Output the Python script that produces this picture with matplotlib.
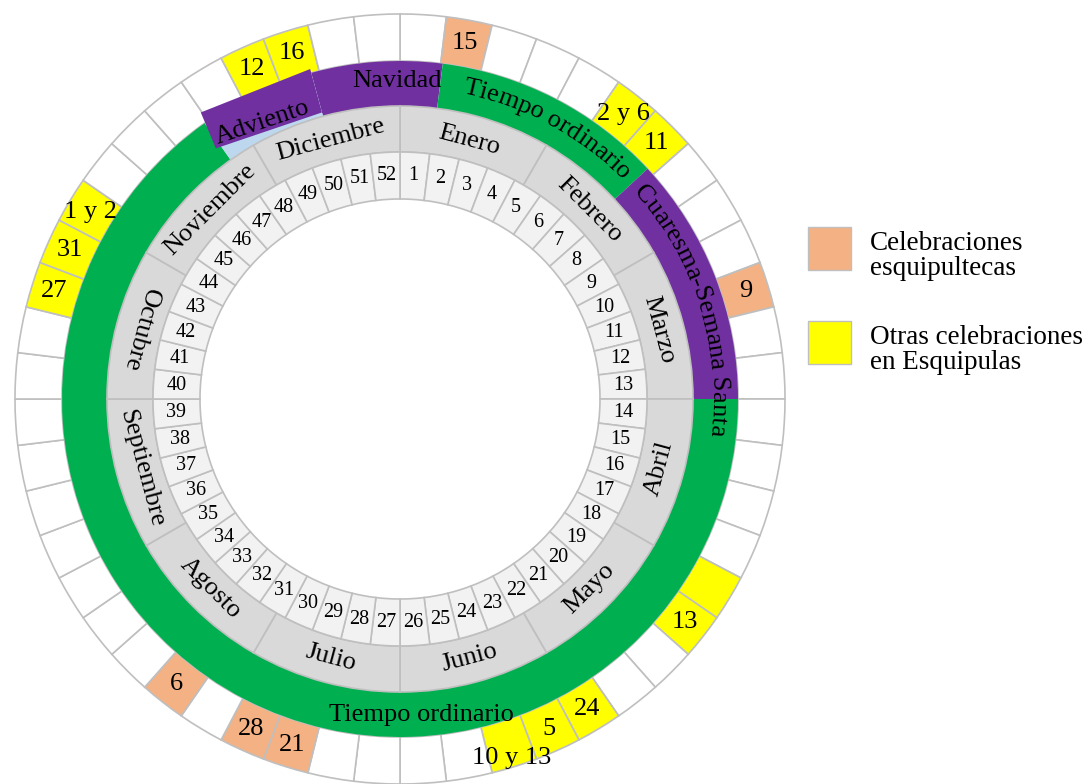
import numpy as np
import matplotlib.pyplot as plt
from matplotlib.patches import Wedge, Polygon, Rectangle
from matplotlib.textpath import TextToPath
from matplotlib.font_manager import FontProperties

plt.rcParams['font.family'] = 'Liberation Serif'

# --- data ---
weeks = list(range(1, 53))
months = ['Enero', 'Febrero', 'Marzo', 'Abril', 'Mayo', 'Junio',
          'Julio', 'Agosto', 'Septiembre', 'Octubre', 'Noviembre', 'Diciembre']

# liturgical seasons, start / end given in weeks since 1 January
season_names = ['Navidad', 'Tiempo ordinario', 'Cuaresma-Semana Santa',
                'Tiempo ordinario', 'Adviento']
season_start = [49.8, 1.05, 6.8, 13.0, 46.9]
season_end = [53.05, 6.8, 13.0, 46.9, 49.8]
season_colors = ['#7030a0', '#00b050', '#7030a0', '#00b050', '#bdd7ee']

# celebrations: week cell, label, kind
cel_weeks = [2, 6, 7, 11, 18, 19, 22, 23, 24, 29, 30, 32, 42, 43, 44, 49, 50]
cel_labels = ['15', '2 y 6', '11', '9', '', '13', '24', '5', '10 y 13',
              '21', '28', '6', '27', '31', '1 y 2', '12', '16']
cel_kind = ['esq', 'otra', 'otra', 'esq', 'otra', 'otra', 'otra', 'otra', 'otra',
            'esq', 'esq', 'esq', 'otra', 'otra', 'otra', 'otra', 'otra']
kind_colors = {'esq': '#f4b183', 'otra': '#ffff00'}
legend_text = {'esq': ['Celebraciones', 'esquipultecas'],
               'otra': ['Otras celebraciones', 'en Esquipulas']}

# --- geometry ---
CX, CY = 400, 385
R_WEEK_IN, R_WEEK_OUT = 200, 247
R_MONTH_OUT = 293
R_SEASON_OUT = 338
R_OUTER = 385
GRID = '#bfbfbf'


def ang(w):
    # weeks -> degrees, clockwise from the top
    return w * 360 / 52


def pt(a, r):
    t = np.radians(a)
    return CX + r * np.sin(t), CY + r * np.cos(t)


def ring(a1, a2, r_in, r_out, **kw):
    ax.add_patch(Wedge((CX, CY), r_out, 90 - a2, 90 - a1,
                       width=r_out - r_in, **kw))


ttp = TextToPath()


def char_width(ch, fp):
    w2 = ttp.get_text_width_height_descent('xx', fp, ismath=False)[0]
    w3 = ttp.get_text_width_height_descent('x' + ch + 'x', fp, ismath=False)[0]
    return (w3 - w2) * 100 / 72


def curved_text(s, a_mid, r, size):
    fp = FontProperties(family='Liberation Serif', size=size)
    widths = [char_width(c, fp) for c in s]
    a = a_mid - np.degrees(sum(widths) / r) / 2
    for c, w in zip(s, widths):
        ac = a + np.degrees(w / 2 / r)
        x, y = pt(ac, r)
        ax.text(x, y, c, fontproperties=fp, rotation=-ac, ha='center',
                va='baseline', rotation_mode='anchor')
        a += np.degrees(w / r)


fig = plt.figure(figsize=(10.9, 7.84), dpi=100)
ax = fig.add_axes([0, 0, 1, 1])
ax.set_xlim(0, 1090)
ax.set_ylim(0, 784)
ax.axis('off')

# outer ring of celebrations
for i in range(52):
    w = weeks[i]
    fc = 'white'
    if w in cel_weeks:
        fc = kind_colors[cel_kind[cel_weeks.index(w)]]
    ring(ang(i), ang(i + 1), R_SEASON_OUT, R_OUTER, fc=fc, ec=GRID, lw=1.2)
nudge = {'10 y 13': 14}  # this label sits lower in the original
for w, lab in zip(cel_weeks, cel_labels):
    x, y = pt(ang(w - 0.5), 362 + nudge.get(lab, 0))
    ax.text(x, y, lab, fontsize=19, ha='center', va='center')

# liturgical seasons
for s0, s1, c in zip(season_start, season_end, season_colors):
    ring(ang(s0), ang(s1), R_MONTH_OUT, R_SEASON_OUT, fc=c, ec='none')

# Adviento box drawn over its light blue band
a0, a1 = ang(season_start[4]), ang(season_end[4])
box = [pt(a0 + 0.5, R_SEASON_OUT + 11), pt(a0 - 1.0, R_MONTH_OUT + 18),
       pt(a1, R_MONTH_OUT + 4), pt(a1, R_SEASON_OUT + 4)]
ax.add_patch(Polygon(box, closed=True, fc='#7030a0', ec='none'))
tilt = np.degrees(np.arctan2(box[2][1] - box[1][1], box[2][0] - box[1][0]))
x, y = pt(333.5, 309)
ax.text(x, y, season_names[4], fontsize=19, rotation=tilt,
        ha='center', va='center', rotation_mode='anchor')

x, y = pt(359.5, 318)
ax.text(x, y, season_names[0], fontsize=19, ha='center', va='center')
curved_text(season_names[1], 28.5, 312, 19)
curved_text(season_names[2], 72.5, 312, 19)
x, y = pt(176.2, 317)
ax.text(x, y, season_names[3], fontsize=19, ha='center', va='center')

# months
for i, m in enumerate(months):
    ring(30 * i, 30 * (i + 1), R_WEEK_OUT, R_MONTH_OUT, fc='#d9d9d9', ec=GRID, lw=1.2)
    a = 30 * i + 15
    rot = 180 - a if 90 < a < 300 else -a
    x, y = pt(a, 268)
    ax.text(x, y, m, fontsize=19, rotation=rot, ha='center', va='center',
            rotation_mode='anchor')

# weeks
for i, w in enumerate(weeks):
    ring(ang(i), ang(i + 1), R_WEEK_IN, R_WEEK_OUT, fc='#f2f2f2', ec=GRID, lw=1.2)
    x, y = pt(ang(i + 0.5), 224)
    ax.text(x, y, str(w), fontsize=14.5, ha='center', va='center')

# legend
for k, y0 in zip(['esq', 'otra'], [514, 420]):
    ax.add_patch(Rectangle((808, y0), 43, 43, fc=kind_colors[k], ec=GRID, lw=1))
    ax.text(870, y0 + 20, legend_text[k][0], fontsize=19.5, va='baseline')
    ax.text(870, y0 - 5, legend_text[k][1], fontsize=19.5, va='baseline')

fig.savefig('out.png', dpi=100)
